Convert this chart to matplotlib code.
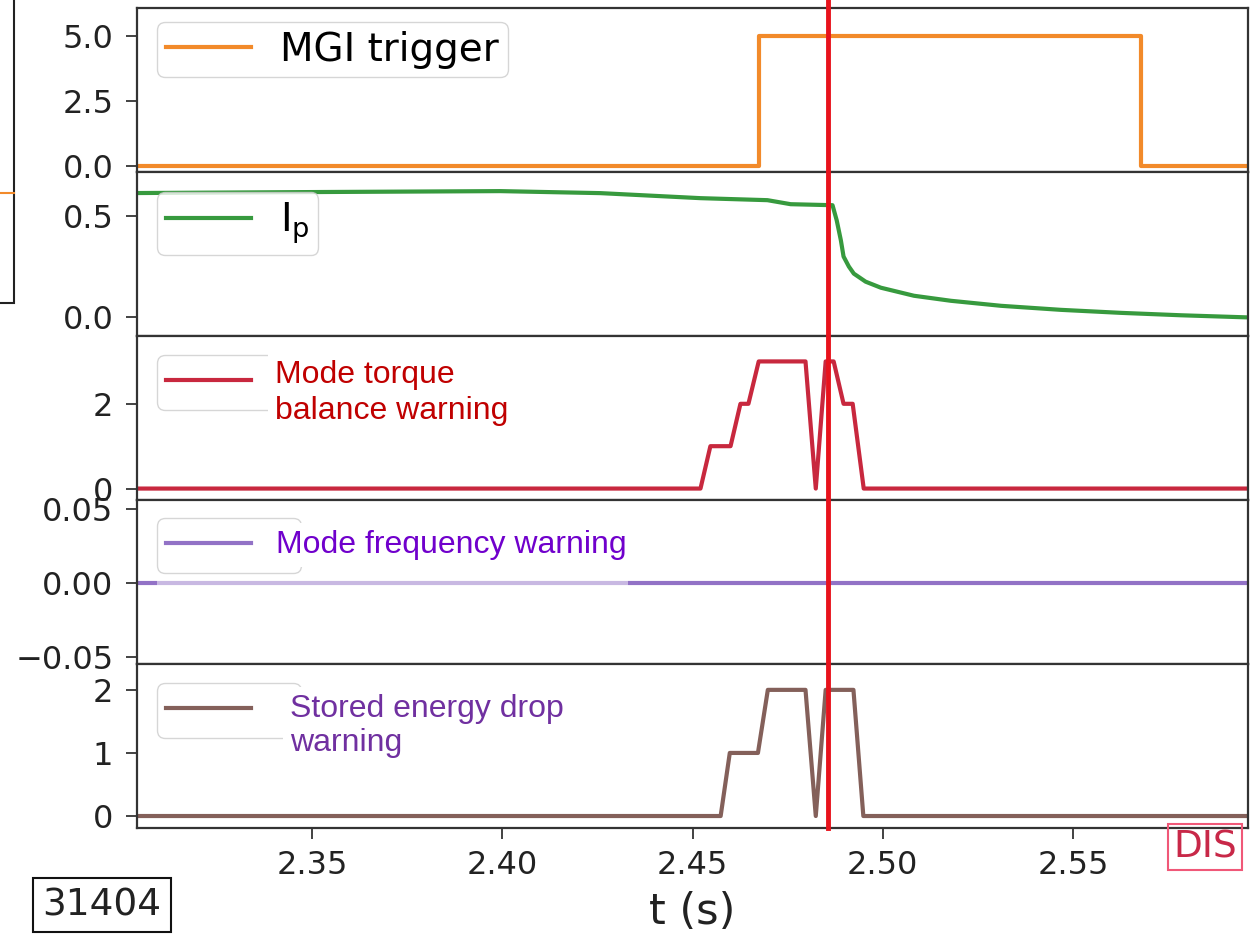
import matplotlib
matplotlib.use("Agg")
import matplotlib.pyplot as plt
from matplotlib.patches import Rectangle
from matplotlib.lines import Line2D
import matplotlib.transforms as mtransforms

# ---------------- data ----------------
mgi_t = [2.300, 2.4676, 2.4676, 2.5679, 2.5679, 2.600]
mgi_v = [0, 0, 5, 5, 0, 0]

ip_t = [2.300, 2.3468, 2.3995, 2.4258, 2.4521, 2.4697, 2.4758, 2.4868, 2.4879,
        2.4890, 2.4897, 2.4911, 2.4924, 2.4955, 2.4995, 2.5082, 2.5179, 2.5311,
        2.5468, 2.5626, 2.5784, 2.600]
ip_v = [0.615, 0.620, 0.625, 0.615, 0.590, 0.580, 0.560, 0.555, 0.480,
        0.380, 0.300, 0.250, 0.215, 0.175, 0.145, 0.105, 0.080, 0.055,
        0.035, 0.020, 0.008, -0.005]

torque_t = [2.300, 2.4521, 2.4547, 2.4600, 2.4626, 2.4647, 2.4674, 2.4797,
            2.4824, 2.4850, 2.4871, 2.4897, 2.4921, 2.4950, 2.600]
torque_v = [0, 0, 1, 1, 2, 2, 3, 3, 0, 3, 3, 2, 2, 0, 0]

freq_t = [2.300, 2.600]
freq_v = [0, 0]

energy_t = [2.300, 2.4574, 2.4598, 2.4672, 2.4698, 2.4797, 2.4824, 2.4850,
            2.4923, 2.4949, 2.600]
energy_v = [0, 0, 1, 1, 2, 2, 0, 2, 2, 0, 0]

disruption_t = 2.4855
xticks = [2.35, 2.40, 2.45, 2.50, 2.55]
shot_label = "31404"

# ---------------- figure ----------------
W, H = 1260, 938
fig = plt.figure(figsize=(12.6, 9.38), dpi=100)
L, R, T, B = 137 / W, 1248 / W, 1 - 8 / H, 1 - 828 / H
gs = fig.add_gridspec(5, 1, left=L, right=R, top=T, bottom=B, hspace=0)
axes = [fig.add_subplot(gs[i]) for i in range(5)]
for a in axes[1:]:
    a.sharex(axes[0])

c_orange = '#f28a2a'
c_green = '#379a3e'
c_red = '#c8283e'
c_purple = '#9272c6'
c_brown = '#84605a'
lw = 3

l0, = axes[0].plot(mgi_t, mgi_v, color=c_orange, lw=lw)
l1, = axes[1].plot(ip_t, ip_v, color=c_green, lw=lw)
l2, = axes[2].plot(torque_t, torque_v, color=c_red, lw=lw)
l3, = axes[3].plot(freq_t, freq_v, color=c_purple, lw=lw)
l4, = axes[4].plot(energy_t, energy_v, color=c_brown, lw=lw)
lines = [l0, l1, l2, l3, l4]
leg_labels = ['MGI trigger', r'I$_\mathrm{p}$', ' ', ' ', ' ']

axes[0].set_ylim(-0.25, 6.1)
axes[0].set_yticks([0, 2.5, 5.0])
axes[1].set_ylim(-0.095, 0.72)
axes[1].set_yticks([0.0, 0.5])
axes[2].set_ylim(-0.27, 3.6)
axes[2].set_yticks([0, 2])
axes[3].set_ylim(-0.055, 0.056)
axes[3].set_yticks([-0.05, 0.0, 0.05])
axes[4].set_ylim(-0.19, 2.41)
axes[4].set_yticks([0, 1, 2])

axes[0].set_xlim(2.304, 2.596)
axes[4].set_xticks(xticks)
axes[4].set_xticklabels([f"{v:.2f}" for v in xticks])

leg_tops = [22, 192, 355, 518, 683]
for i, a in enumerate(axes):
    a.tick_params(axis='y', labelsize=23, length=8, width=1.2,
                  colors='#222222', pad=9)
    a.tick_params(axis='x', labelsize=23, length=8, width=1.2,
                  colors='#222222', pad=8)
    for s in a.spines.values():
        s.set_linewidth(1.6)
        s.set_color('#333333')
    if i < 4:
        a.tick_params(axis='x', bottom=False, labelbottom=False)
    ax_bottom_px = 8 + 164 * (i + 1)
    yfrac = (ax_bottom_px - leg_tops[i]) / 164
    leg = a.legend([lines[i]], [leg_labels[i]], loc='upper left',
                   bbox_to_anchor=(20 / 1111, yfrac),
                   borderaxespad=0, fontsize=28, handlelength=2.2,
                   handletextpad=0.75, borderpad=0.22, framealpha=0.8)
    leg.set_zorder(5)

axes[4].set_xlabel('t (s)', fontsize=31, color='#222222', labelpad=7)

# colored annotation texts (over legends)
tk = dict(family=['Liberation Sans', 'DejaVu Sans'], fontsize=23,
          va='center', ha='left', zorder=7,
          bbox=dict(facecolor='white', edgecolor='none', pad=5))

def px(xp, yp):
    return xp / W, 1 - yp / H

fig.text(*px(275, 393), 'Mode torque\nbalance warning', color='#c00000',
         linespacing=1.22, **tk)
fig.text(*px(276, 545), 'Mode frequency warning', color='#7000cc', **tk)
fig.text(*px(290, 726), 'Stored energy drop\nwarning', color='#7030a0',
         linespacing=1.2, **tk)

# faded region of the frequency legend frame (under the legend handle)
fade = Rectangle(px(157, 586), (628 - 157) / W, (586 - 513) / H,
                 transform=fig.transFigure, facecolor='white',
                 edgecolor='none', alpha=0.5, zorder=4)
axes[3].add_patch(fade)

# disruption marker spanning all panels up to figure top
trans = mtransforms.blended_transform_factory(axes[0].transData, fig.transFigure)
fig.add_artist(Line2D([disruption_t, disruption_t], [B, 1.0], transform=trans,
                      color='#e8121c', lw=3.5, zorder=10))

# shot number box
fig.text(*px(102, 905), shot_label, fontsize=27, color='#222222',
         ha='center', va='center',
         bbox=dict(boxstyle='square,pad=0.25', facecolor='white',
                   edgecolor='#111111', lw=1.5))

# DIS box
fig.text(*px(1205, 847), 'DIS', fontsize=27, color='#c82848',
         ha='center', va='center', zorder=12,
         bbox=dict(boxstyle='square,pad=0.14', facecolor='none',
                   edgecolor='#f05878', lw=1.5))

# partial frame at the left edge
fig.patches.append(Rectangle((-0.02, 1 - 303 / H), 0.02 + 14 / W, 303 / H + 0.02,
                             transform=fig.transFigure, facecolor='none',
                             edgecolor='#222222', lw=1.5))
fig.add_artist(Line2D([0, 14 / W], [1 - 193 / H, 1 - 193 / H],
                      transform=fig.transFigure, color=c_orange, lw=1.5))

fig.savefig('out.png', dpi=100)
